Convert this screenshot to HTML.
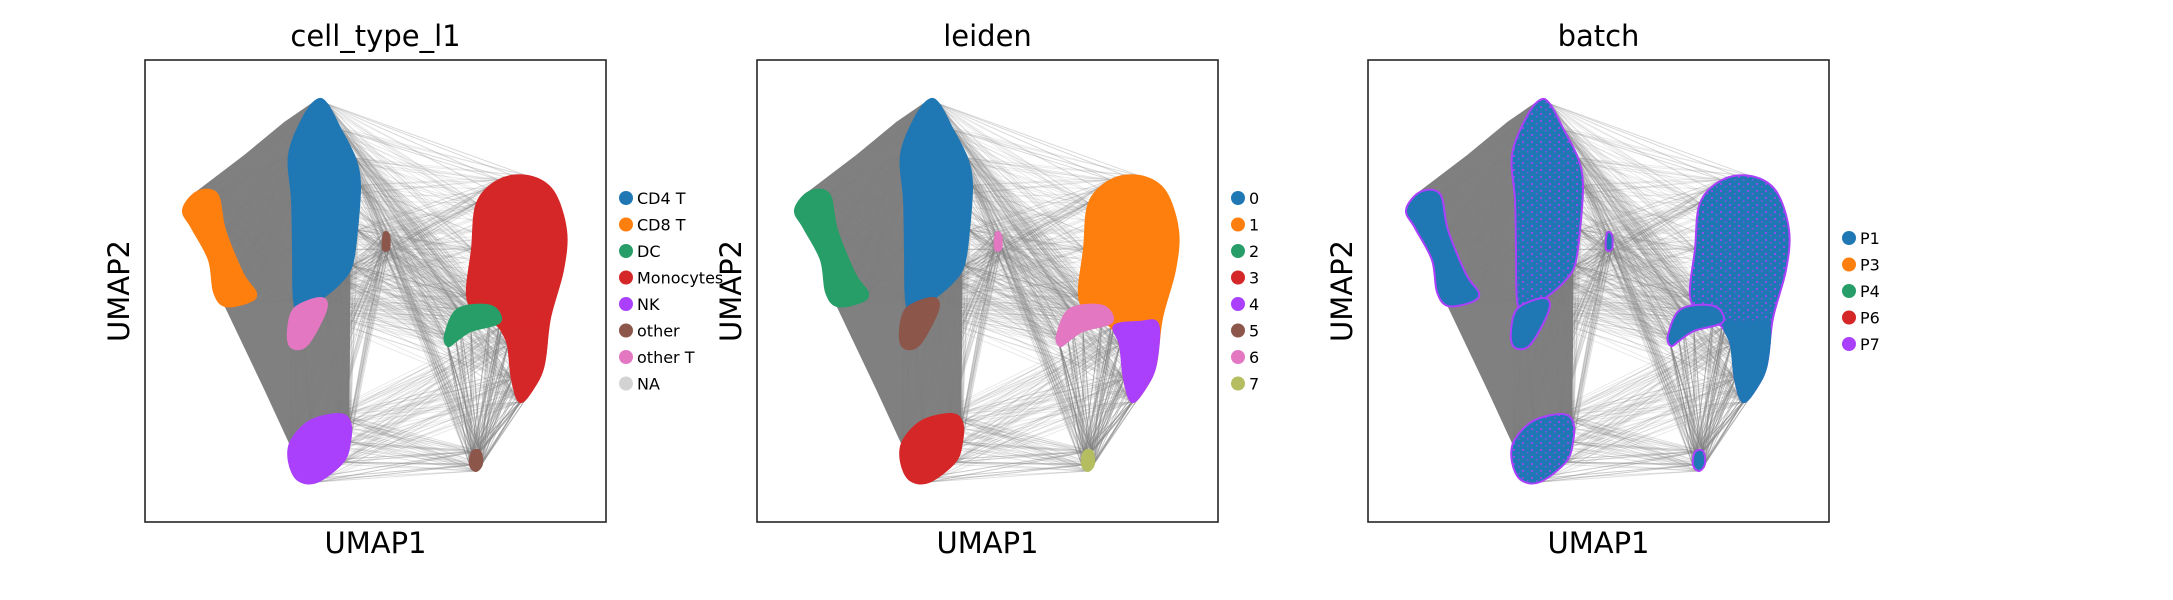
<!DOCTYPE html>
<html><head><meta charset="utf-8">
<style>
html,body{margin:0;padding:0;background:#fff;}
svg{display:block;font-family:"DejaVu Sans","Liberation Sans",sans-serif;}
</style></head>
<body>
<svg id="fig" width="2173" height="600" viewBox="0 0 2173 600" xmlns="http://www.w3.org/2000/svg"></svg>
<script>
// Cluster outlines in UMAP embedding coordinates
const cd4Outline = [[172,40],[182,44],[196,70],[210,98],[215,125],[212,170],[207,205],[196,222],[180,236],[156,252],[149,240],[148,190],[147,140],[144,95],[158,58]];
const otherTOutline = [[150,248],[176,238],[181,250],[162,285],[146,287],[143,270]];
const cd8Outline = [[52,132],[72,134],[80,170],[98,214],[111,233],[104,242],[80,246],[69,232],[64,200],[47,168],[38,150]];
const nkOutline = [[194,354],[205,362],[205,382],[198,402],[172,422],[153,420],[144,402],[146,381],[165,361]];
const monoOutline = [[354,120],[383,116],[408,131],[421,170],[418,210],[405,258],[399,304],[389,327],[375,342],[367,319],[363,285],[353,266],[334,256],[322,236],[327,189],[332,143]];
const monoLowerOutline = [[357,266],[382,262],[401,264],[399,304],[389,327],[375,342],[367,319],[363,285]];
const dcOutline = [[313,249],[346,246],[355,262],[326,271],[311,281],[303,286],[300,275]];
const other1Outline = [[239,173],[244,175],[244,189],[238,189]];
const other2Outline = [[327,392],[335,391],[337,404],[331,411],[325,405]];
const denseOutline = [[50,133],[100,95],[140,62],[172,40],[150,100],[148,240],[205,210],[204,360],[150,395],[120,330],[80,246],[100,240]];
// Graph edges between clusters
const edgeFrom = ['cd4','cd4','cd4','nk','nk','other1','other1','other1','other2','other2','cd8','cd4'];
const edgeTo   = ['mono','other1','dc','other2','monoLower','mono','other2','nk','monoLower','dc','cd4','nk'];
const edgeAlpha= [0.18,0.25,0.16,0.25,0.18,0.16,0.3,0.25,0.45,0.4,0.15,0.15];

const outlines = {cd4:cd4Outline, otherT:otherTOutline, cd8:cd8Outline, nk:nkOutline, mono:monoOutline, monoLower:monoLowerOutline, dc:dcOutline, other1:other1Outline, other2:other2Outline};

const panelTitles = ['cell_type_l1','leiden','batch'];
const panelX = [145, 757, 1368];
const legendLabels = [
  ['CD4 T','CD8 T','DC','Monocytes','NK','other','other T','NA'],
  ['0','1','2','3','4','5','6','7'],
  ['P1','P3','P4','P6','P7']];
const legendColors = [
  ['#1f77b4','#ff7f0e','#279e68','#d62728','#aa40fc','#8c564b','#e377c2','#d3d3d3'],
  ['#1f77b4','#ff7f0e','#279e68','#d62728','#aa40fc','#8c564b','#e377c2','#b5bd61'],
  ['#1f77b4','#ff7f0e','#279e68','#d62728','#aa40fc']];
const clusterOrder = ['cd8','cd4','otherT','nk','mono','monoLower','dc','other1','other2'];
const clusterColors = [
  {cd8:'#ff7f0e',cd4:'#1f77b4',otherT:'#e377c2',nk:'#aa40fc',mono:'#d62728',monoLower:'#d62728',dc:'#279e68',other1:'#8c564b',other2:'#8c564b'},
  {cd8:'#279e68',cd4:'#1f77b4',otherT:'#8c564b',nk:'#d62728',mono:'#ff7f0e',monoLower:'#aa40fc',dc:'#e377c2',other1:'#e377c2',other2:'#b5bd61'},
  {cd8:'#1f77b4',cd4:'#1f77b4',otherT:'#1f77b4',nk:'#1f77b4',mono:'#1f77b4',monoLower:'#1f77b4',dc:'#1f77b4',other1:'#1f77b4',other2:'#1f77b4'}];

const NS='http://www.w3.org/2000/svg';
const fig=document.getElementById('fig');
const PW=461, PY=60, PH=462;
function mk(tag,attrs,parent){const e=document.createElementNS(NS,tag);for(const k in attrs)e.setAttribute(k,attrs[k]);(parent||fig).appendChild(e);return e;}
function xScale(p,u){return panelX[p]+u*(PW/461);}
function yScale(v){return PY+v*(PH/462);}
function pts(p,arr){return arr.map(d=>xScale(p,d[0]).toFixed(1)+','+yScale(d[1]).toFixed(1)).join(' ');}
function smooth(p,arr){
  const P=arr.map(d=>[xScale(p,d[0]),yScale(d[1])]);const n=P.length;
  let s='M'+P[0][0].toFixed(1)+','+P[0][1].toFixed(1);
  for(let i=0;i<n;i++){
    const p0=P[(i-1+n)%n],p1=P[i],p2=P[(i+1)%n],p3=P[(i+2)%n];
    const c1=[p1[0]+(p2[0]-p0[0])/6,p1[1]+(p2[1]-p0[1])/6];
    const c2=[p2[0]-(p3[0]-p1[0])/6,p2[1]-(p3[1]-p1[1])/6];
    s+='C'+c1[0].toFixed(1)+','+c1[1].toFixed(1)+' '+c2[0].toFixed(1)+','+c2[1].toFixed(1)+' '+p2[0].toFixed(1)+','+p2[1].toFixed(1);
  }
  return s+'Z';
}

const defs=mk('defs',{});
const pat=mk('pattern',{id:'speck',width:'9',height:'7',patternUnits:'userSpaceOnUse'},defs);
mk('rect',{x:1,y:1,width:2,height:2,fill:'#aa40fc'},pat);
mk('rect',{x:6,y:4,width:1.5,height:1.5,fill:'#aa40fc'},pat);

for(let p=0;p<3;p++){
  const g=mk('g',{});
  
  
  const t=mk('text',{x:panelX[p]+PW/2,y:46,'text-anchor':'middle','font-size':'29',fill:'#000'},g);
  t.textContent=panelTitles[p];
  
  
  const dn=mk('polygon',{points:pts(p,denseOutline),fill:'#808080','stroke':'#808080','stroke-width':'1','stroke-linejoin':'round'},g);
  
  
  for(let i=0;i<edgeFrom.length;i++){
    const A=outlines[edgeFrom[i]],B=outlines[edgeTo[i]];
    const eg=mk('g',{stroke:'#808080','stroke-width':'0.9','stroke-opacity':edgeAlpha[i]},g);
    
    
    A.forEach(a=>B.forEach(b=>{mk('line',{x1:xScale(p,a[0]),y1:yScale(a[1]),x2:xScale(p,b[0]),y2:yScale(b[1])},eg);}));
  }
  clusterOrder.forEach(c=>{
    const col=clusterColors[p][c];
    const edge=(p==2 && c!='monoLower')?'#aa40fc':col;
    const pg=mk('path',{d:smooth(p,outlines[c]),fill:col,stroke:edge,'stroke-width':'2','stroke-linejoin':'round'},g);
    
    
    if(p==2&&(c=='mono'||c=='cd4'||c=='nk')){
      const sp=mk('path',{d:smooth(p,outlines[c]),fill:'url(#speck)','fill-opacity':'0.8'},g);
      
      
    }
  });
  const fr=mk('rect',{x:panelX[p],y:PY,width:PW,height:PH,fill:'none',stroke:'#262626','stroke-width':'1.6'},g);
  
  
  const xl=mk('text',{x:panelX[p]+PW/2,y:553,'text-anchor':'middle','font-size':'29',fill:'#000'},g);
  xl.textContent='UMAP1';
  
  
  const yl=mk('text',{x:0,y:0,'text-anchor':'middle','font-size':'29',fill:'#000',transform:'translate('+(panelX[p]-16)+','+(PY+PH/2)+') rotate(-90)'},g);
  yl.textContent='UMAP2';
  
  
  const labs=legendLabels[p];
  const ly0= p==2?238:198;
  const lx=panelX[p]+PW+20;
  labs.forEach((lab,i)=>{
    const lg=mk('g',{},g);
    
    
    mk('circle',{cx:lx,cy:ly0+i*26.5,r:7,fill:legendColors[p][i]},lg);
    const tt=mk('text',{x:lx+11,y:ly0+i*26.5+6,'font-size':'16',fill:'#000'},lg);
    tt.textContent=lab;
  });
}
</script>
</body></html>
